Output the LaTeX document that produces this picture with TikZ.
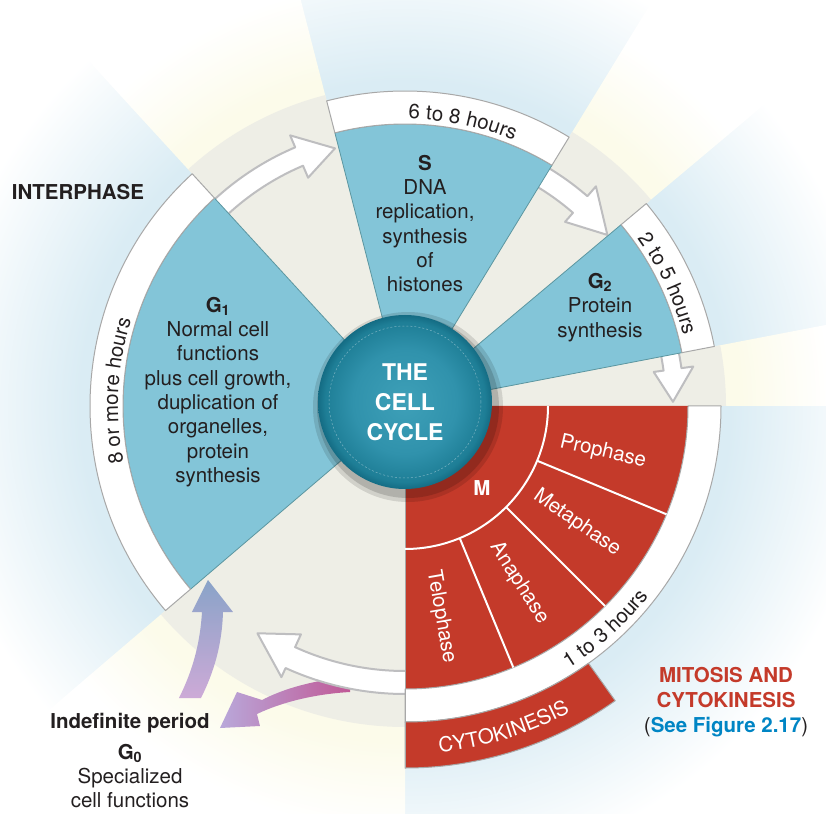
\documentclass[tikz,border=0pt]{standalone}
\usepackage{fontspec}
\setmainfont{TeX Gyre Heros}
\usepackage{tikz}
\usetikzlibrary{arrows.meta,calc,decorations.text}

\definecolor{sectorblue}{RGB}{131,197,216}
\definecolor{sectoredge}{RGB}{92,150,160}
\definecolor{discbeige}{RGB}{238,238,230}
\definecolor{ringgrey}{RGB}{168,168,168}
\definecolor{arrowgrey}{RGB}{190,190,192}
\definecolor{mred}{RGB}{196,58,42}
\definecolor{haloblue}{RGB}{218,236,244}
\definecolor{beamyellow}{RGB}{252,251,234}
\definecolor{ballin}{RGB}{62,160,184}
\definecolor{ballmid}{RGB}{48,146,172}
\definecolor{ballout}{RGB}{30,126,150}
\definecolor{ballrim}{RGB}{20,108,132}
\definecolor{textdark}{RGB}{35,31,32}
\definecolor{figblue}{RGB}{0,133,196}
\definecolor{gzerotop}{RGB}{137,163,200}
\definecolor{gzerobot}{RGB}{205,170,215}
\definecolor{exitpink}{RGB}{192,88,150}
\definecolor{exitlav}{RGB}{185,168,218}

\pgfdeclareradialshading{halo}{\pgfpointorigin}{color(0bp)=(haloblue); color(14.5bp)=(haloblue); color(21bp)=(white); color(50bp)=(white)}
\pgfdeclareradialshading{beam}{\pgfpointorigin}{color(0bp)=(beamyellow); color(15bp)=(beamyellow); color(19bp)=(white); color(50bp)=(white)}
\pgfdeclareradialshading{cellball}{\pgfpointorigin}{color(0bp)=(ballin); color(15bp)=(ballmid); color(23bp)=(ballout); color(25bp)=(ballrim); color(50bp)=(ballrim)}

\newcommand\labelsize{\fontsize{20.5}{24.3}\selectfont}

\begin{document}
\begin{tikzpicture}[x=1pt,y=1pt,line join=round,font=\labelsize,
  every node/.style={text=textdark},
  sector/.style={fill=sectorblue,draw=sectoredge,line width=0.8pt},
  ringband/.style={fill=white,draw=ringgrey,line width=1pt},
  cyclearrow/.style={fill=white,draw=arrowgrey,line width=2pt},
  phaseline/.style={draw=white,line width=2pt},
  phaselabel/.style={text=white},
  hourtext/.style={decorate,decoration={text along path,text align=center,text={#1}}}]
\useasboundingbox (-405,-407) rectangle (421,406);
\clip (-405,-407) rectangle (421,406);
% --- background: halo and light beams
\fill[white] (-405,-407) rectangle (421,406);
\shade[shading=halo] (0,0) circle (560);
\foreach \a/\b in {104.4/132.5,40/58.6,0/10.9,220.5/270} {\begin{scope} \clip (0,0) -- (\a:700) arc (\a:\b:700) -- cycle; \shade[shading=beam] (0,0) circle (560); \end{scope}}
% beige disc, wider in the gaps
\fill[discbeige] (0,0) circle (315);
\foreach \a/\b in {104.4/132.5,40/58.6,0/10.9,220.5/270} \fill[discbeige] (0,0) -- (\a:321) arc (\a:\b:321) -- cycle;
% G0 arrows
\shade[top color=gzerotop,bottom color=gzerobot] (-226,-292) .. controls (-213,-266) and (-205,-239) .. (-203,-206) -- (-213,-206) -- (-197,-174) -- (-172,-206) -- (-182,-206) .. controls (-183,-239) and (-191,-266) .. (-204,-292) -- cycle;
\shade[left color=exitlav,right color=exitpink] (-55,-271) .. controls (-90,-274) and (-120,-282) .. (-143,-294) -- (-168,-286) -- (-185,-322) -- (-145,-320) -- (-148,-308) .. controls (-123,-296) and (-90,-288) .. (-55,-286) -- cycle;
% cycle arrows (tails hidden under the next sector)
\foreach \a/\b/\t/\ri/\ro/\bi/\bo/\rt in {136/113/105.2/261/281/248/294/267,62/49/40.2/256/278/244/291/265,13/7.8/0.9/261/279/251/291/268,272/245.5/237/265/288/251/298/271}
  \path[cyclearrow] (\a:\ri) arc (\a:\b:\ri) -- (\b:\bi) -- (\t:\rt) -- (\b:\bo) -- (\b:\ro) arc (\b:\a:\ro) -- cycle;
% --- interphase sectors
\foreach \a/\b in {132.5/220.5,58.6/104.4,10.9/40} {\path[sector] (0,0) -- (\a:282) arc (\a:\b:282) -- cycle; \path[ringband] (\a:282) arc (\a:\b:282) -- (\b:315) arc (\b:\a:315) -- cycle;}
% --- mitotic sector
\fill[mred] (0,0) -- (0:283) arc (0:-90:283) -- cycle;
\path[ringband] (0:283) arc (0:-90:283) -- (-90:316) arc (-90:0:316) -- cycle;
\path[fill=mred,draw=ringgrey,line width=1pt] (-90:316) arc (-90:-54.5:316) -- (-54.5:362) arc (-54.5:-90:362) -- cycle;
\draw[ringgrey,line width=0.8pt] (0,0) -- (-90:362);
\draw[phaseline] (0:143) arc (0:-90:143);
\foreach \a in {-22.5,-45,-67.5} \draw[phaseline] (\a:143) -- (\a:283);
% --- centre ball
\fill[black,opacity=0.12] (3,-1) circle (95);
\fill[black,opacity=0.15] (3,-1) circle (91);
\shade[shading=cellball] (0,4) circle (87);
\draw[white,opacity=0.4,line width=0.5pt,dash pattern=on 2pt off 2pt] (0,4) circle (76);
\node[text=white,align=center,font=\fontsize{23}{30}\selectfont\bfseries] (cellcycle) at (0,4) {THE\\CELL\\CYCLE};
% durations along the rings
\path[hourtext={|\color{textdark}\labelsize|6 to 8 hours}] (108.5:287) arc (108.5:48.5:287);
\path[hourtext={|\color{textdark}\labelsize|2 to 5 hours}] (55:287) arc (55:-5:287);
\path[hourtext={|\color{textdark}\labelsize|8 or more hours}] (217:287) arc (217:137:287);
\path[hourtext={|\color{textdark}\labelsize|1 to 3 hours}] (-78:309) arc (-78:-18:309);
\path[hourtext={|\color{white}\labelsize|CYTOKINESIS}] (-103:348) arc (-103:-43:348);
% sector texts
\node[align=center] (gone) at (-187,14) {\textbf{G\textsubscript{1}}\\Normal cell\\functions\\plus cell growth,\\duplication of\\organelles,\\protein\\synthesis};
\node[align=center] (ess) at (20,182.5) {\textbf{S}\\DNA\\replication,\\synthesis\\of\\histones};
\node[align=center] (gtwo) at (195,98.5) {\textbf{G\textsubscript{2}}\\Protein\\synthesis};
\node[phaselabel,font=\labelsize\bfseries] (emm) at (77,-82) {M};
\node[phaselabel,rotate=-13] (prophase) at (198,-46) {Prophase};
\node[phaselabel,rotate=-35] (metaphase) at (172,-117) {Metaphase};
\node[phaselabel,rotate=-57.5] (anaphase) at (114,-177) {Anaphase};
\node[phaselabel,rotate=-80] (telophase) at (36,-211) {Telophase};
% --- outside labels
\node (interphase) at (-327,214) {\bfseries INTERPHASE};
\node (indefinite) at (-275,-317) {\bfseries Indefinite period};
\node[align=center] (gzero) at (-275,-370) {\textbf{G\textsubscript{0}}\\Specialized\\cell functions};
\node[align=center,text=mred,font=\fontsize{20.5}{25}\selectfont\bfseries] (mitosis) at (321,-296) {MITOSIS AND\\CYTOKINESIS\\\textcolor{textdark}{\mdseries(}\textcolor{figblue}{See Figure 2.17}\textcolor{textdark}{\mdseries)}};
\end{tikzpicture}
\end{document}
